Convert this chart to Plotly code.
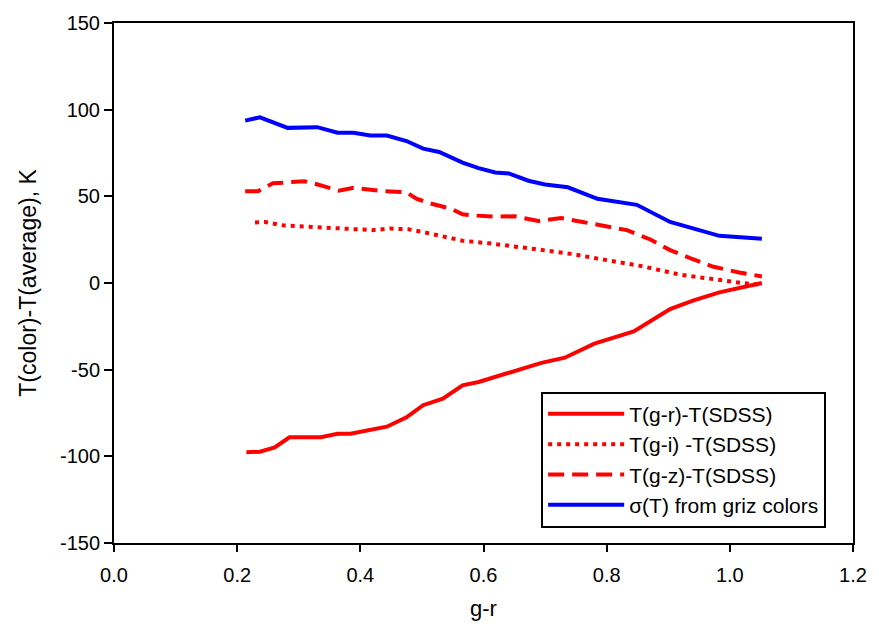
import plotly.graph_objects as go

# g-r values and temperature differences (K)
x_gr = [0.215, 0.237, 0.261, 0.285, 0.336, 0.363, 0.384, 0.416, 0.443, 0.475, 0.502,
        0.534, 0.566, 0.592, 0.646, 0.694, 0.732, 0.780, 0.844, 0.903, 0.940, 0.983, 1.052]
y_gr = [-97.7, -97.3, -94.9, -89.0, -89.0, -87.0, -87.0, -84.8, -82.9, -77.5, -70.5,
        -66.7, -59.0, -57.1, -51.0, -46.1, -43.1, -35.0, -27.9, -15.0, -10.2, -5.4, 0.0]

x_gi = [0.229, 0.245, 0.274, 0.304, 0.347, 0.389, 0.419, 0.448, 0.478, 0.507, 0.536,
        0.566, 0.609, 0.625, 0.683, 0.742, 0.801, 0.860, 0.919, 0.978, 1.020, 1.050]
y_gi = [34.9, 35.2, 33.3, 32.8, 32.0, 30.9, 30.5, 31.4, 31.0, 29.0, 26.7,
        24.4, 22.9, 22.3, 19.6, 16.8, 13.3, 9.5, 4.8, 1.9, 0.0, -1.0]

x_gz = [0.213, 0.234, 0.258, 0.282, 0.309, 0.328, 0.344, 0.365, 0.389, 0.405, 0.438,
        0.475, 0.491, 0.512, 0.547, 0.566, 0.582, 0.619, 0.651, 0.689, 0.726, 0.761,
        0.796, 0.833, 0.871, 0.903, 0.940, 0.972, 1.015, 1.052]
y_gz = [53.0, 53.0, 57.5, 57.9, 58.7, 57.1, 55.6, 53.3, 54.9, 54.3, 53.0,
        52.4, 48.6, 46.1, 42.9, 39.6, 39.0, 38.3, 38.5, 35.8, 37.5, 35.2,
        32.8, 30.5, 25.1, 19.0, 13.7, 9.5, 6.1, 3.8]

x_sig = [0.213, 0.237, 0.282, 0.306, 0.330, 0.363, 0.389, 0.416, 0.443, 0.475, 0.502,
         0.528, 0.566, 0.592, 0.619, 0.641, 0.673, 0.700, 0.737, 0.785, 0.833, 0.849,
         0.903, 0.951, 0.983, 1.052]
y_sig = [93.7, 95.6, 89.5, 89.5, 89.9, 86.7, 86.7, 85.1, 85.1, 81.9, 77.5,
         75.6, 69.5, 66.3, 63.8, 63.2, 59.0, 56.8, 55.2, 48.6, 46.3, 45.1,
         35.2, 30.5, 27.2, 25.5]

x_ticks = [0.0, 0.2, 0.4, 0.6, 0.8, 1.0, 1.2]
x_ticklabels = ["0.0", "0.2", "0.4", "0.6", "0.8", "1.0", "1.2"]
y_ticks = [-150, -100, -50, 0, 50, 100, 150]
y_ticklabels = ["-150", "-100", "-50", "0", "50", "100", "150"]

FONT = "Arial, 'Liberation Sans', sans-serif"

fig = go.Figure()
fig.add_trace(go.Scatter(x=x_gr, y=y_gr, mode="lines", name="T(g-r)-T(SDSS)",
                         line=dict(color="#ff0000", width=4)))
fig.add_trace(go.Scatter(x=x_gi, y=y_gi, mode="lines", name="T(g-i) -T(SDSS)",
                         line=dict(color="#ff0000", width=4, dash="4px,5px")))
fig.add_trace(go.Scatter(x=x_gz, y=y_gz, mode="lines", name="T(g-z)-T(SDSS)",
                         line=dict(color="#ff0000", width=4, dash="16px,8px")))
fig.add_trace(go.Scatter(x=x_sig, y=y_sig, mode="lines", name="σ(T) from griz colors",
                         line=dict(color="#0000ff", width=4)))

fig.update_layout(
    width=879, height=631,
    margin=dict(l=114, r=17, t=18, b=88),
    paper_bgcolor="white", plot_bgcolor="white",
    font=dict(family=FONT, size=16, color="black"),
    showlegend=True,
    legend=dict(x=0.578, y=0.291, xanchor="left", yanchor="top",
                bordercolor="black", borderwidth=2, bgcolor="white",
                font=dict(family=FONT, size=21, color="black"),
                itemwidth=76, tracegroupgap=0),
    xaxis=dict(range=[0, 1.2], tickvals=x_ticks, ticktext=x_ticklabels,
               showgrid=False, zeroline=False, showline=True, linecolor="black",
               linewidth=2, mirror=True, ticks="outside", ticklen=7, tickwidth=1.5,
               tickcolor="black", tickfont=dict(size=20), ticklabelstandoff=6,
               title=dict(text="g-r", font=dict(size=22), standoff=16)),
    yaxis=dict(range=[-150, 150], tickvals=y_ticks, ticktext=y_ticklabels,
               showgrid=False, zeroline=False, showline=True, linecolor="black",
               linewidth=2, mirror=True, ticks="outside", ticklen=8, tickwidth=1.5,
               tickcolor="black", tickfont=dict(size=20),
               title=dict(text="T(color)-T(average), K", font=dict(size=23), standoff=17)),
)

fig.write_html("out.html")
